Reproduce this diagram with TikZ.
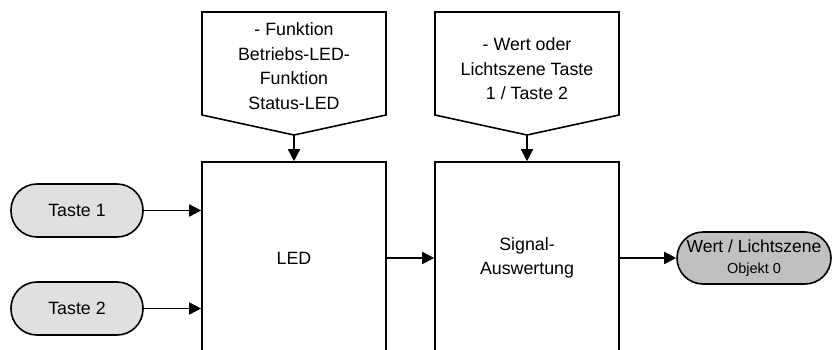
\documentclass[tikz,border=0pt]{standalone}
\usepackage{fontspec}
\setmainfont{Liberation Sans}
\usetikzlibrary{arrows.meta,calc}
\definecolor{tgray}{HTML}{E0E0E0}
\definecolor{ogray}{HTML}{C0C0C0}
\begin{document}
\begin{tikzpicture}[x=1pt,y=-1pt,
  line width=1.6pt,
  arr/.style={-{Triangle[length=12pt,width=12pt]}},
  mainfont/.style={font=\fontsize{17.8}{24.5}\selectfont},
  tnode/.style={draw, fill=tgray, rounded corners=26pt, minimum width=132pt, minimum height=53pt, inner sep=0pt, mainfont},
  onode/.style={draw, fill=ogray, rounded corners=26pt, minimum width=154pt, minimum height=52pt, inner sep=0pt, align=center, font=\fontsize{17.5}{20.7}\selectfont},
  blockbox/.style={draw, minimum width=184pt, minimum height=192pt, inner sep=0pt, align=center, mainfont},
  ptext/.style={align=center, mainfont, inner sep=0pt},
  pent/.style={draw}
]
\clip (0,0) rectangle (835,349);
\useasboundingbox (0,0) rectangle (835,349);

% pentagons
\draw[pent] (202,12) -- (386,12) -- (386,115) -- (294,135) -- (202,115) -- cycle;
\coordinate (p1tip) at (294,135);
\node[ptext] (p1) at (294,66) {- Funktion\\Betriebs-LED-\\Funktion\\Status-LED};

\draw[pent] (435,12) -- (619,12) -- (619,115) -- (527,135) -- (435,115) -- cycle;
\coordinate (p2tip) at (527,135);
\node[ptext] (p2) at (527,69) {- Wert oder\\Lichtszene Taste\\1 / Taste 2};

% blocks
\node[blockbox] (led) at (294,258) {LED};
\node[blockbox] (sig) at (527,258) {Signal-\\Auswertung};

% inputs
\node[tnode] (t1) at (77,210.5) {Taste 1};
\node[tnode] (t2) at (77,308.5) {Taste 2};

% output
\node[onode] (out) at (754,258) {Wert / Lichtszene\\{\fontsize{14.5}{17}\selectfont Objekt 0}};

% connectors
\draw[arr] (p1tip) -- (led.north);
\draw[arr] (p2tip) -- (sig.north);
\draw[arr] (t1.east) -- (t1.east -| led.west);
\draw[arr] (t2.east) -- (t2.east -| led.west);
\draw[arr] (led.east) -- (sig.west);
\draw[arr] (sig.east) -- (sig.east -| out.west);
\end{tikzpicture}
\end{document}
